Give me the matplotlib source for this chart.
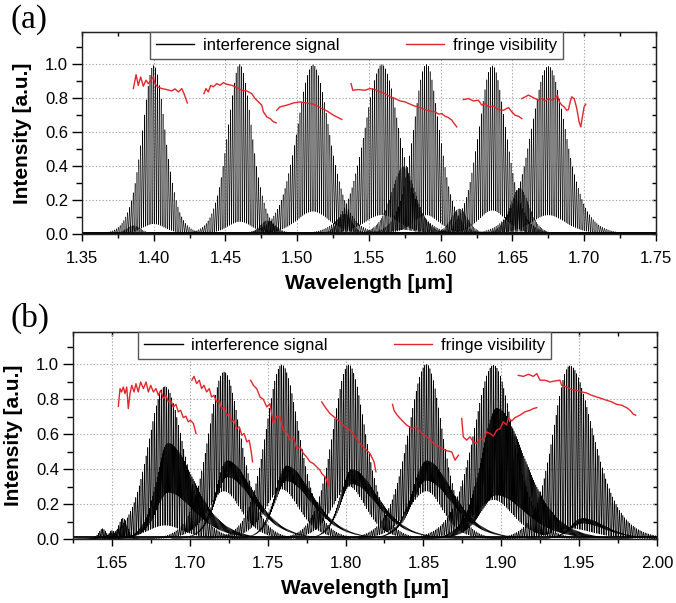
import numpy as np
import matplotlib
matplotlib.use("Agg")
import matplotlib.pyplot as plt
from matplotlib.ticker import MultipleLocator
from matplotlib.lines import Line2D

plt.rcParams["font.family"] = ["Liberation Sans", "DejaVu Sans"]

# ---------------- panel (a) ----------------
a_centers = [1.400, 1.460, 1.511, 1.559, 1.590, 1.636, 1.675]
a_heights = [1.00, 1.00, 1.00, 1.00, 1.00, 1.00, 0.99]
a_fwhm = [0.019, 0.020, 0.027, 0.029, 0.022, 0.023, 0.029]
a_contrast = [0.90, 0.865, 0.77, 0.80, 0.80, 0.77, 0.80]
a_period = 0.0013

# narrow, densely modulated side features
a_side_centers = [1.386, 1.479, 1.533, 1.574, 1.613, 1.655]
a_side_heights = [0.05, 0.08, 0.12, 0.40, 0.15, 0.27]
a_side_fwhm = [0.012, 0.012, 0.012, 0.020, 0.014, 0.016]
a_floor = 0.008

# fringe visibility, segment by segment
a_vis_wl = [
    [1.3858, 1.3877, 1.3892, 1.3909, 1.3927, 1.3946, 1.3962, 1.3981, 1.3997, 1.4009,
     1.4025, 1.4056, 1.4090, 1.4125, 1.4148, 1.4172, 1.4195, 1.4211, 1.4234],
    [1.4350, 1.4364, 1.4380, 1.4397, 1.4415, 1.4439, 1.4462, 1.4485, 1.4509, 1.4544,
     1.4578, 1.4613, 1.4648, 1.4683, 1.4706, 1.4730, 1.4753, 1.4764, 1.4788, 1.4811,
     1.4834, 1.4853],
    [1.4857, 1.4880, 1.4927, 1.4973, 1.5019, 1.5066, 1.5112, 1.5159, 1.5205, 1.5252,
     1.5310],
    [1.5375, 1.5387, 1.5426, 1.5472, 1.5507, 1.5542, 1.5577, 1.5612, 1.5647, 1.5682,
     1.5717, 1.5752, 1.5787, 1.5821, 1.5856, 1.5891, 1.5926, 1.5961, 1.5984, 1.6007,
     1.6030, 1.6053, 1.6077, 1.6093, 1.6112],
    [1.6158, 1.6193, 1.6228, 1.6263, 1.6286, 1.6309, 1.6332, 1.6367, 1.6402, 1.6437,
     1.6472, 1.6495, 1.6518, 1.6541, 1.6565],
    [1.6565, 1.6588, 1.6611, 1.6635, 1.6658, 1.6681, 1.6704, 1.6727, 1.6750, 1.6774,
     1.6797, 1.6813, 1.6827, 1.6844, 1.6860, 1.6878, 1.6890, 1.6902, 1.6913, 1.6930,
     1.6948, 1.6964, 1.6976, 1.6987, 1.6999, 1.7011],
]
a_vis = [
    [0.857, 0.939, 0.876, 0.925, 0.871, 0.906, 0.886, 0.906, 0.925, 0.886,
     0.867, 0.857, 0.851, 0.843, 0.855, 0.837, 0.857, 0.827, 0.772],
    [0.827, 0.857, 0.837, 0.876, 0.867, 0.886, 0.876, 0.892, 0.882, 0.876,
     0.863, 0.847, 0.843, 0.827, 0.798, 0.778, 0.759, 0.720, 0.690, 0.680,
     0.661, 0.655],
    [0.729, 0.749, 0.759, 0.772, 0.778, 0.772, 0.765, 0.745, 0.726, 0.700,
     0.675],
    [0.886, 0.847, 0.851, 0.847, 0.857, 0.851, 0.837, 0.827, 0.808, 0.798,
     0.784, 0.778, 0.765, 0.753, 0.745, 0.733, 0.724, 0.720, 0.706, 0.710,
     0.694, 0.686, 0.671, 0.651, 0.631],
    [0.792, 0.798, 0.784, 0.788, 0.759, 0.769, 0.749, 0.753, 0.733, 0.729,
     0.745, 0.720, 0.700, 0.694, 0.680],
    [0.798, 0.808, 0.818, 0.808, 0.798, 0.788, 0.798, 0.784, 0.798, 0.788,
     0.798, 0.818, 0.778, 0.759, 0.749, 0.729, 0.733, 0.778, 0.808, 0.798,
     0.739, 0.661, 0.631, 0.690, 0.749, 0.765],
]

# ---------------- panel (b) ----------------
b_centers = [1.684, 1.722, 1.759, 1.802, 1.852, 1.895, 1.944]
b_heights = [0.88, 0.96, 1.00, 1.00, 1.00, 1.00, 1.00]
b_hwhm_left = [0.0130, 0.0124, 0.0124, 0.0124, 0.0141, 0.0153, 0.0130]
b_hwhm_right = [0.0141, 0.0130, 0.0135, 0.0130, 0.0124, 0.0153, 0.0182]
b_contrast = [0.85, 0.56, 0.56, 0.54, 0.57, 0.64, 0.90]
b_period = 0.0011

# dark, unresolved skirts trailing each peak
b_skirt_centers = [1.686, 1.724, 1.762, 1.804, 1.852, 1.897, 1.952]
b_skirt_heights = [0.55, 0.45, 0.42, 0.40, 0.45, 0.75, 0.12]
b_skirt_hwhm_left = [0.009, 0.009, 0.009, 0.009, 0.011, 0.012, 0.009]
b_skirt_hwhm_right = [0.020, 0.020, 0.020, 0.020, 0.020, 0.022, 0.018]
b_skirt_contrast = [0.35, 0.12, 0.12, 0.12, 0.15, 0.50, 0.15]

b_pre_centers = [1.6440, 1.6500, 1.6570]
b_pre_heights = [0.06, 0.05, 0.12]
b_pre_fwhm = [0.006, 0.005, 0.007]
b_floor = 0.012

b_vis_wl = [
    [1.6541, 1.6552, 1.6562, 1.6573, 1.6584, 1.6595, 1.6605, 1.6616, 1.6627, 1.6642,
     1.6654, 1.6669, 1.6684, 1.6702, 1.6719, 1.6734, 1.6749, 1.6766, 1.6783, 1.6798,
     1.6813, 1.6830, 1.6847, 1.6862, 1.6877, 1.6894, 1.6911, 1.6926, 1.6941, 1.6958,
     1.6975, 1.6990, 1.7005, 1.7023, 1.7040],
    [1.7013, 1.7027, 1.7044, 1.7061, 1.7076, 1.7091, 1.7108, 1.7125, 1.7140, 1.7155,
     1.7172, 1.7189, 1.7204, 1.7219, 1.7237, 1.7254, 1.7269, 1.7284, 1.7301, 1.7318,
     1.7334, 1.7349, 1.7366, 1.7381, 1.7393, 1.7403],
    [1.7391, 1.7408, 1.7430, 1.7451, 1.7472, 1.7494, 1.7515, 1.7536, 1.7557, 1.7579,
     1.7600, 1.7622, 1.7643, 1.7665, 1.7686, 1.7708, 1.7729, 1.7750, 1.7772, 1.7793,
     1.7815, 1.7836, 1.7847, 1.7868, 1.7879, 1.7890, 1.7896],
    [1.7847, 1.7868, 1.7900, 1.7932, 1.7965, 1.7997, 1.8029, 1.8061, 1.8093, 1.8125,
     1.8157, 1.8183, 1.8195],
    [1.8302, 1.8311, 1.8332, 1.8361, 1.8393, 1.8425, 1.8457, 1.8489, 1.8521, 1.8553,
     1.8586, 1.8618, 1.8650, 1.8682, 1.8703, 1.8725],
    [1.8746, 1.8756, 1.8778, 1.8799, 1.8821, 1.8842, 1.8864, 1.8885, 1.8906, 1.8928,
     1.8949, 1.8971, 1.8992, 1.9013, 1.9035, 1.9045, 1.9067, 1.9088, 1.9120, 1.9152,
     1.9185, 1.9206, 1.9228],
    [1.9109, 1.9142, 1.9174, 1.9206, 1.9228, 1.9249, 1.9281, 1.9313, 1.9345, 1.9377,
     1.9388, 1.9420, 1.9452, 1.9484, 1.9516, 1.9548, 1.9580, 1.9613, 1.9645, 1.9677,
     1.9709, 1.9741, 1.9773, 1.9805, 1.9827, 1.9848, 1.9863],
]
b_vis = [
    [0.760, 0.861, 0.842, 0.870, 0.832, 0.870, 0.747, 0.832, 0.880, 0.842,
     0.889, 0.842, 0.899, 0.861, 0.899, 0.842, 0.880, 0.842, 0.861, 0.823,
     0.851, 0.804, 0.823, 0.785, 0.794, 0.756, 0.771, 0.728, 0.737, 0.695,
     0.703, 0.671, 0.680, 0.661, 0.604],
    [0.909, 0.931, 0.890, 0.909, 0.861, 0.880, 0.842, 0.861, 0.813, 0.823,
     0.785, 0.794, 0.747, 0.756, 0.709, 0.718, 0.671, 0.680, 0.632, 0.642,
     0.594, 0.604, 0.556, 0.566, 0.509, 0.442],
    [0.909, 0.880, 0.860, 0.813, 0.800, 0.756, 0.775, 0.661, 0.700, 0.699,
     0.623, 0.613, 0.566, 0.585, 0.518, 0.528, 0.490, 0.470, 0.442, 0.432,
     0.413, 0.394, 0.375, 0.356, 0.337, 0.300, 0.356],
    [0.785, 0.756, 0.718, 0.695, 0.671, 0.642, 0.623, 0.585, 0.547, 0.518,
     0.490, 0.442, 0.385],
    [0.771, 0.737, 0.709, 0.680, 0.652, 0.632, 0.642, 0.604, 0.585, 0.556,
     0.537, 0.518, 0.505, 0.499, 0.451, 0.480],
    [0.690, 0.585, 0.566, 0.585, 0.556, 0.547, 0.575, 0.566, 0.613, 0.604,
     0.589, 0.623, 0.632, 0.671, 0.652, 0.695, 0.676, 0.695, 0.709, 0.728,
     0.737, 0.747, 0.752],
    [0.937, 0.931, 0.943, 0.931, 0.947, 0.909, 0.909, 0.899, 0.905, 0.909,
     0.880, 0.871, 0.855, 0.851, 0.842, 0.836, 0.823, 0.813, 0.804, 0.794,
     0.785, 0.771, 0.766, 0.752, 0.737, 0.714, 0.709],
]

RED = "#e3262d"
SECH2_HWHM = 0.8814  # half width at half maximum of sech^2(t), in units of t


def fringes(ax, c, height, hw_l, hw_r, contrast, period, lw=0.35, color="k",
            span=5.0):
    """Fringe pattern under an (asymmetric) sech^2 spectral envelope."""
    tau_l, tau_r = hw_l / SECH2_HWHM, hw_r / SECH2_HWHM
    x = np.arange(c - span * tau_l, c + span * tau_r, period / 14.0)
    tau = np.where(x < c, tau_l, tau_r)
    env = height / np.cosh((x - c) / tau) ** 2
    y = env * (1 + contrast * np.cos(2 * np.pi * (x - c) / period)) / (1 + contrast)
    ax.plot(x, y, color=color, lw=lw, solid_joinstyle="miter")


def style_axes(ax, xlim, ylim):
    ax.set_xlim(*xlim)
    ax.set_ylim(*ylim)
    ax.xaxis.set_major_locator(MultipleLocator(0.05))
    ax.xaxis.set_minor_locator(MultipleLocator(0.025))
    ax.yaxis.set_major_locator(MultipleLocator(0.2))
    ax.yaxis.set_minor_locator(MultipleLocator(0.1))
    ax.xaxis.set_major_formatter(plt.FuncFormatter(lambda v, p: f"{v:.2f}"))
    ax.yaxis.set_major_formatter(plt.FuncFormatter(lambda v, p: f"{v:.1f}"))
    ax.tick_params(axis="x", which="major", direction="out", length=5, width=1.0,
                   labelsize=12, pad=7)
    ax.tick_params(axis="x", which="minor", direction="out", length=3, width=1.0)
    ax.tick_params(axis="y", which="major", direction="out", length=7, width=1.0,
                   labelsize=12, pad=3)
    ax.tick_params(axis="y", which="minor", direction="out", length=4, width=1.0)
    ax.grid(True, which="major", color="#a8a8a8", linestyle=(0, (1.2, 1.8)), lw=0.8)
    ax.set_axisbelow(True)
    for s in ax.spines.values():
        s.set_linewidth(1.0)
        s.set_color("#222222")
    top = ax.secondary_xaxis("top")
    top.xaxis.set_major_locator(MultipleLocator(0.025))
    top.tick_params(direction="in", length=3, width=1.0, labeltop=False)
    right = ax.secondary_yaxis("right")
    right.yaxis.set_major_locator(MultipleLocator(0.1))
    right.tick_params(direction="in", length=3, width=1.0, labelright=False)
    ax.set_xlabel("Wavelength [\u03bcm]", fontsize=15, fontweight="bold", labelpad=6)
    ax.set_ylabel("Intensity [a.u.]", fontsize=15, fontweight="bold", labelpad=9)


def add_legend(ax, cx):
    handles = [Line2D([], [], color="k", lw=1.0),
               Line2D([], [], color=RED, lw=1.0)]
    leg = ax.legend(handles, ["interference signal", "fringe visibility"], ncol=2,
                    loc="upper center", bbox_to_anchor=(cx, 1.0), fontsize=12,
                    frameon=True, fancybox=False, framealpha=1.0, edgecolor="#555555",
                    handlelength=2.3, handletextpad=0.5, columnspacing=4.0,
                    borderpad=0.35, borderaxespad=0.0)
    leg.get_frame().set_linewidth(1.0)
    leg.set_zorder(20)


fig = plt.figure(figsize=(6.76, 6.03), dpi=100)
ax_a = fig.add_axes([0.1213, 0.6119, 0.8491, 0.3350])
ax_b = fig.add_axes([0.1080, 0.1061, 0.8639, 0.3433])

# ---- (a) ----
ax_a.plot([1.35, 1.75], [a_floor, a_floor], color="k", lw=1.4)
for c, h, w in zip(a_side_centers, a_side_heights, a_side_fwhm):
    fringes(ax_a, c, h, w / 2, w / 2, 0.9, 0.0009, lw=0.3, color="#1a1a1a")
for c, h, w, v in zip(a_centers, a_heights, a_fwhm, a_contrast):
    fringes(ax_a, c, h, w / 2, w / 2, v, a_period, lw=0.35)
for wl, vv in zip(a_vis_wl, a_vis):
    ax_a.plot(wl, vv, color=RED, lw=1.0, zorder=10)
style_axes(ax_a, (1.35, 1.75), (0.0, 1.19))
add_legend(ax_a, 0.478)

# ---- (b) ----
ax_b.plot([1.625, 2.0], [b_floor, b_floor], color="k", lw=1.3)
for c, h, w in zip(b_pre_centers, b_pre_heights, b_pre_fwhm):
    fringes(ax_b, c, h, w / 2, w / 2, 0.8, 0.0009, lw=0.4)
for c, h, hl, hr, v in zip(b_skirt_centers, b_skirt_heights, b_skirt_hwhm_left,
                           b_skirt_hwhm_right, b_skirt_contrast):
    fringes(ax_b, c, h, hl, hr, v, 0.0007, lw=0.35, span=3.5)
for c, h, hl, hr, v in zip(b_centers, b_heights, b_hwhm_left, b_hwhm_right, b_contrast):
    fringes(ax_b, c, h, hl, hr, v, b_period, lw=0.4)
for wl, vv in zip(b_vis_wl, b_vis):
    ax_b.plot(wl, vv, color=RED, lw=1.0, zorder=10)
style_axes(ax_b, (1.625, 2.0), (0.0, 1.185))
add_legend(ax_b, 0.465)

serif = ["Liberation Serif", "DejaVu Serif"]
fig.text(0.016, 0.993, "(a)", family=serif, fontsize=24, va="top")
fig.text(0.016, 0.498, "(b)", family=serif, fontsize=24, va="top")

fig.savefig("out.png", dpi=100)
